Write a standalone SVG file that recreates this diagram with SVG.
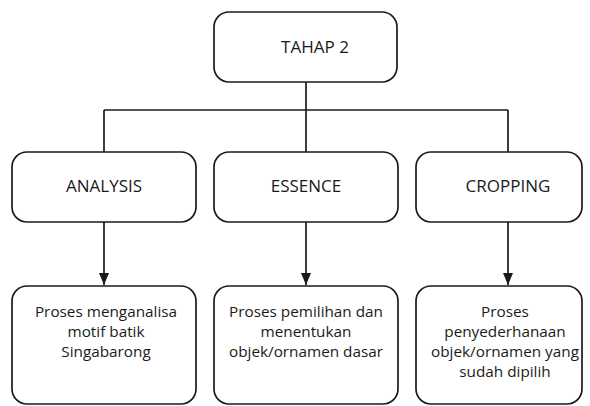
<svg xmlns="http://www.w3.org/2000/svg" width="590" height="406" viewBox="0 0 590 406">
<style>
.box{fill:#fff;stroke:#1a1a1a;stroke-width:1.7}
.ln{fill:none;stroke:#1a1a1a;stroke-width:1.7}
.t{font-family:"Open Sans","Noto Sans",sans-serif;font-size:17px;fill:#1a1a1a;text-anchor:middle}
.s{font-family:"Open Sans","Noto Sans",sans-serif;font-size:15.3px;fill:#1a1a1a;text-anchor:middle}
</style>
<defs>
<marker id="ah" markerWidth="12" markerHeight="10" refX="12" refY="5" orient="auto" markerUnits="userSpaceOnUse">
<path d="M0,0 L12,5 L0,10 Z" fill="#1a1a1a"/>
</marker>
</defs>
<g id="connectors">
<path class="ln" d="M306,82 V110"/>
<path class="ln" d="M104,110 H508"/>
<path class="ln" d="M104,110 V152"/>
<path class="ln" d="M306,110 V152"/>
<path class="ln" d="M508,110 V152"/>
<path class="ln" d="M104,222 V285" marker-end="url(#ah)"/>
<path class="ln" d="M306,222 V285" marker-end="url(#ah)"/>
<path class="ln" d="M508,222 V285" marker-end="url(#ah)"/>
</g>
<g id="tahap2">
<rect class="box" x="214" y="12" width="183" height="70" rx="15"/>
<text class="t" x="315" y="53">TAHAP 2</text>
</g>
<g id="analysis">
<rect class="box" x="12" y="152" width="184" height="70" rx="15"/>
<text class="t" x="104" y="192">ANALYSIS</text>
</g>
<g id="essence">
<rect class="box" x="214" y="152" width="184" height="70" rx="15"/>
<text class="t" x="306" y="192">ESSENCE</text>
</g>
<g id="cropping">
<rect class="box" x="416" y="152" width="166" height="70" rx="15"/>
<text class="t" x="508" y="192">CROPPING</text>
</g>
<g id="desc1">
<rect class="box" x="12" y="286" width="184" height="118" rx="15"/>
<text class="s" x="106" y="317">Proses menganalisa</text>
<text class="s" x="106" y="337">motif batik</text>
<text class="s" x="106" y="357">Singabarong</text>
</g>
<g id="desc2">
<rect class="box" x="214" y="286" width="184" height="118" rx="15"/>
<text class="s" x="306" y="317">Proses pemilihan dan</text>
<text class="s" x="306" y="337">menentukan</text>
<text class="s" x="306" y="357">objek/ornamen dasar</text>
</g>
<g id="desc3">
<rect class="box" x="416" y="286" width="166" height="118" rx="15"/>
<text class="s" x="505" y="317">Proses</text>
<text class="s" x="505" y="337">penyederhanaan</text>
<text class="s" x="505" y="357">objek/ornamen yang</text>
<text class="s" x="505" y="377">sudah dipilih</text>
</g>
</svg>
